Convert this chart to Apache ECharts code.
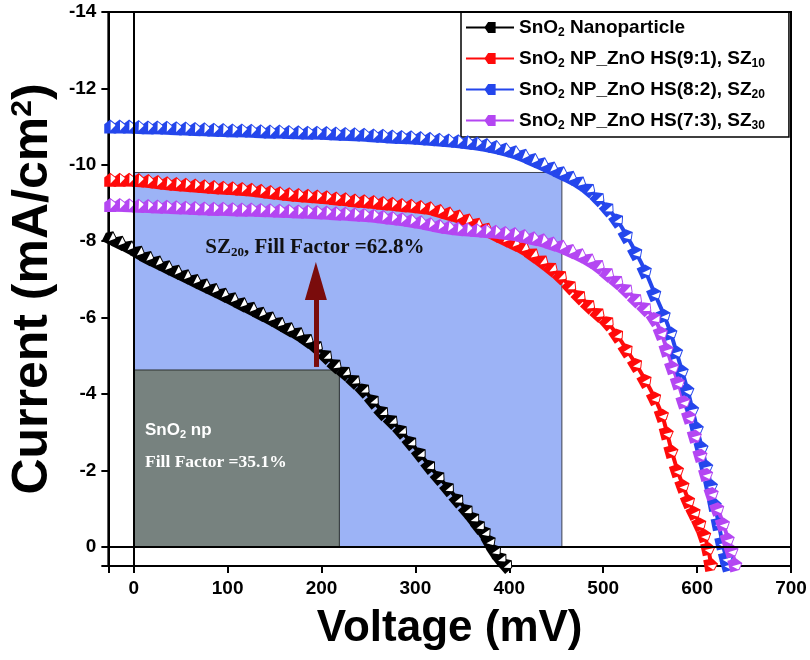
<!DOCTYPE html>
<html><head><meta charset="utf-8">
<script src="https://cdn.jsdelivr.net/npm/echarts@6/dist/echarts.min.js"></script>
<style>html,body{margin:0;padding:0;background:#fff}#c{width:810px;height:660px}</style>
</head><body><div id="c"></div>
<script>
// ---------- data ----------
const seriesNames = ['SnO2 Nanoparticle', 'SnO2 NP_ZnO HS(9:1), SZ10', 'SnO2 NP_ZnO HS(8:2), SZ20', 'SnO2 NP_ZnO HS(7:3), SZ30'];
const legendLabels = ['SnO{s|2} Nanoparticle', 'SnO{s|2} NP_ZnO HS(9:1), SZ{s|10}', 'SnO{s|2} NP_ZnO HS(8:2), SZ{s|20}', 'SnO{s|2} NP_ZnO HS(7:3), SZ{s|30}'];
const seriesColors = ['#000000', '#FF0A0A', '#2446EC', '#B446F2'];

const voltNP = [-25,-15,-5,5,15,25,35,45,55,65,75,85,95,105,115,125,135,145,155,165,175,185,195,205,215,225,235,245,255,265,275,285,295,305,315,325,335,345,355,362,368,374,379,385,391,397];
const currNP = [-8.10,-7.98,-7.86,-7.72,-7.58,-7.46,-7.34,-7.22,-7.10,-6.98,-6.86,-6.74,-6.62,-6.50,-6.37,-6.25,-6.12,-6.00,-5.86,-5.72,-5.59,-5.42,-5.24,-5.00,-4.76,-4.57,-4.35,-4.12,-3.83,-3.53,-3.30,-3.04,-2.74,-2.44,-2.12,-1.83,-1.54,-1.24,-0.96,-0.75,-0.55,-0.38,-0.15,0.10,0.30,0.47];

const voltSZ10 = [-25,-15,-5,5,15,25,35,45,55,65,75,85,95,105,115,125,135,145,155,165,175,185,195,205,215,225,235,245,255,265,275,285,295,305,315,325,335,345,355,365,375,385,395,405,415,425,435,445,455,465,475,485,495,505,515,525,535,545,555,563,568,573,579,585,591,597,603,608,612,615];
const currSZ10 = [-9.61,-9.61,-9.61,-9.60,-9.58,-9.55,-9.52,-9.50,-9.48,-9.46,-9.44,-9.42,-9.40,-9.39,-9.37,-9.35,-9.32,-9.29,-9.26,-9.23,-9.21,-9.19,-9.17,-9.15,-9.12,-9.10,-9.07,-9.05,-9.03,-9.00,-8.98,-8.95,-8.93,-8.90,-8.87,-8.80,-8.73,-8.66,-8.56,-8.45,-8.32,-8.19,-8.07,-7.95,-7.83,-7.66,-7.48,-7.29,-7.08,-6.82,-6.56,-6.32,-6.10,-5.88,-5.55,-5.16,-4.78,-4.36,-3.90,-3.45,-2.98,-2.50,-2.00,-1.60,-1.20,-0.90,-0.60,-0.30,0.05,0.47];

const voltSZ20 = [-25,-15,-5,5,15,25,35,45,55,65,75,85,95,105,115,125,135,145,155,165,175,185,195,205,215,225,235,245,255,265,275,285,295,305,315,325,335,345,355,365,375,385,395,405,415,425,435,445,455,465,475,485,495,505,515,525,535,545,555,565,572,578,584,590,595,600,605,610,615,619,623,627,631,633];
const currSZ20 = [-11.00,-11.00,-11.00,-10.99,-10.98,-10.98,-10.97,-10.96,-10.95,-10.94,-10.93,-10.92,-10.91,-10.90,-10.90,-10.89,-10.88,-10.87,-10.87,-10.86,-10.85,-10.84,-10.84,-10.83,-10.82,-10.81,-10.80,-10.79,-10.77,-10.76,-10.74,-10.73,-10.72,-10.70,-10.68,-10.66,-10.64,-10.62,-10.59,-10.56,-10.52,-10.47,-10.41,-10.34,-10.25,-10.14,-10.03,-9.92,-9.80,-9.68,-9.54,-9.36,-9.13,-8.86,-8.56,-8.15,-7.70,-7.22,-6.62,-6.06,-5.60,-5.10,-4.60,-4.10,-3.60,-3.10,-2.60,-2.10,-1.60,-1.10,-0.60,-0.10,0.30,0.47];

const voltSZ30 = [-25,-15,-5,5,15,25,35,45,55,65,75,85,95,105,115,125,135,145,155,165,175,185,195,205,215,225,235,245,255,265,275,285,295,305,315,325,335,345,355,365,375,385,395,405,415,425,435,445,455,465,475,485,495,505,515,525,535,545,555,562,568,574,580,586,592,598,604,610,616,622,628,633,637,641];
const currSZ30 = [-8.95,-8.95,-8.94,-8.93,-8.92,-8.91,-8.90,-8.89,-8.88,-8.87,-8.86,-8.85,-8.85,-8.84,-8.83,-8.83,-8.82,-8.81,-8.80,-8.79,-8.78,-8.77,-8.76,-8.75,-8.73,-8.72,-8.70,-8.69,-8.67,-8.64,-8.61,-8.58,-8.54,-8.50,-8.45,-8.40,-8.36,-8.33,-8.31,-8.29,-8.27,-8.25,-8.22,-8.19,-8.14,-8.08,-8.03,-7.95,-7.87,-7.76,-7.65,-7.52,-7.36,-7.15,-6.95,-6.73,-6.48,-6.25,-5.98,-5.60,-5.16,-4.70,-4.30,-3.80,-3.40,-2.90,-2.40,-1.90,-1.40,-1.00,-0.60,-0.20,0.10,0.47];

// fill-factor rectangles [corner1, corner2] in (mV, mA/cm2)
const rectSZ20 = [[0, -9.8], [456, 0]];
const rectNP = [[0, -4.63], [219, 0]];
// arrow from NP max-power point up to SZ20 level
const arrowStart = [194, -4.71];
const arrowEnd = [194, -6.96];
// annotation anchors
const labelSZ20 = [193, -7.83];
const labelNP1 = [12, -3.05];
const labelNP2 = [12, -2.20];

// ---------- chart ----------
const SANS = 'Liberation Sans';
const SERIF = 'Liberation Serif';
const HOUSE = 'path://M5,0L10,4L10,12L0,12L0,4Z';
const HALF = 'path://M0,0M10,12M5.3,1.3L9.1,4.3L9.1,5.2L5.3,9.3Z';

const curves = [
  {v: voltNP, j: currNP},
  {v: voltSZ10, j: currSZ10},
  {v: voltSZ20, j: currSZ20},
  {v: voltSZ30, j: currSZ30}
];

function buildSeries(rot) {
  const out = [];
  curves.forEach((c, k) => {
    const data = c.v.map((v, i) => ({value: [v, c.j[i]], symbolRotate: rot ? rot[k][i] : 0}));
    out.push({
      id: 'main' + k, name: seriesNames[k], type: 'line', data: data,
      symbol: HOUSE, symbolSize: [12, 14], showSymbol: true, showAllSymbol: true,
      itemStyle: {color: seriesColors[k]}, lineStyle: {color: seriesColors[k], width: 4},
      emphasis: {disabled: true}, z: 4, animation: false
    });
    out.push({
      id: 'half' + k, name: seriesNames[k] + ' (half)', type: 'line', data: data,
      symbol: HALF, symbolSize: [12, 14], showSymbol: true, showAllSymbol: true,
      itemStyle: {color: '#ffffff'}, lineStyle: {width: 0, opacity: 0},
      emphasis: {disabled: true}, silent: true, z: 4, animation: false
    });
  });
  return out;
}

const annotSeries = [
  {
    id: 'rects', type: 'line', data: [], z: 1, silent: true, animation: false,
    markArea: {
      silent: true,
      data: [
        [{coord: rectSZ20[0], itemStyle: {color: '#9CB3F6', borderColor: '#3d4250', borderWidth: 1}}, {coord: rectSZ20[1]}],
        [{coord: rectNP[0], itemStyle: {color: '#77827F', borderColor: '#2c302f', borderWidth: 1}}, {coord: rectNP[1]}]
      ]
    }
  },
  {
    id: 'zeros', type: 'line', data: [], z: 2, silent: true, animation: false,
    markLine: {
      silent: true, symbol: 'none', label: {show: false},
      lineStyle: {color: '#000', width: 2, type: 'solid'},
      data: [{xAxis: 0}, {yAxis: 0}]
    }
  },
  {
    id: 'arrow', type: 'line', data: [], z: 3, silent: true, animation: false,
    markLine: {
      silent: true, label: {show: false}, symbolSize: [22, 38],
      lineStyle: {color: '#7A0C0C', width: 5, type: 'solid'},
      data: [[{coord: arrowStart, symbol: 'none'}, {coord: arrowEnd, symbol: 'triangle'}]]
    }
  },
  {
    id: 'texts', type: 'line', data: [], z: 6, silent: true, animation: false,
    markPoint: {
      silent: true, symbol: 'circle', symbolSize: 0,
      data: [
        {coord: labelSZ20, label: {show: true, position: 'inside', formatter: 'SZ{s|20}, Fill Factor =62.8%',
          fontFamily: SERIF, fontWeight: 'bold', fontSize: 21, color: '#111',
          rich: {s: {fontFamily: SERIF, fontWeight: 'bold', fontSize: 13, color: '#111', padding: [10, 0, 0, 0]}}}},
        {coord: labelNP1, label: {show: true, position: 'right', distance: 0, formatter: 'SnO{s|2} np',
          fontFamily: SANS, fontWeight: 'bold', fontSize: 17, color: '#fff',
          rich: {s: {fontFamily: SANS, fontWeight: 'bold', fontSize: 11, color: '#fff', padding: [10, 0, 0, 0]}}}},
        {coord: labelNP2, label: {show: true, position: 'right', distance: 0, formatter: 'Fill Factor =35.1%',
          fontFamily: SERIF, fontWeight: 'bold', fontSize: 17.5, color: '#fff'}}
      ]
    }
  }
];

const option = {
  animation: false,
  backgroundColor: '#fff',
  grid: {left: 108, right: 19, top: 12, bottom: 94, show: true, borderColor: '#000', borderWidth: 2, backgroundColor: 'transparent'},
  legend: {
    orient: 'vertical', left: 461, top: 12,
    padding: [4, 24, 5, 4],
    borderColor: '#000', borderWidth: 1.5,
    itemWidth: 48, itemHeight: 14, itemGap: 8, symbolRotate: 90,
    data: seriesNames,
    formatter: function (name) { return legendLabels[seriesNames.indexOf(name)]; },
    textStyle: {fontFamily: SANS, fontWeight: 'bold', fontSize: 19, color: '#000', lineHeight: 23,
      rich: {s: {fontFamily: SANS, fontWeight: 'bold', fontSize: 12, color: '#000', padding: [11, 0, 0, 0]}}}
  },
  xAxis: {
    type: 'value', min: -27, max: 700, splitNumber: 7,
    name: 'Voltage (mV)', nameLocation: 'middle', nameGap: 41,
    nameTextStyle: {fontFamily: SANS, fontWeight: 'bold', fontSize: 44, color: '#000'},
    axisLine: {onZero: false, lineStyle: {color: '#000', width: 2}},
    axisTick: {show: true, length: 7, lineStyle: {color: '#000', width: 2}},
    axisLabel: {margin: 13, fontFamily: SANS, fontWeight: 'bold', fontSize: 19, color: '#000',
      formatter: function (v) { return (v % 100 === 0) ? String(v) : ''; }},
    splitLine: {show: false}
  },
  yAxis: {
    type: 'value', min: -14, max: 0.5, interval: 2, inverse: true,
    name: 'Current (mA/cm{p|2})', nameLocation: 'middle', nameRotate: 90, nameGap: 50,
    nameTextStyle: {fontFamily: SANS, fontWeight: 'bold', fontSize: 50, color: '#000',
      rich: {p: {fontFamily: SANS, fontWeight: 'bold', fontSize: 30, color: '#000', padding: [0, 0, 20, 0]}}},
    axisLine: {onZero: false, lineStyle: {color: '#000', width: 2}},
    axisTick: {show: true, length: 7, lineStyle: {color: '#000', width: 2}},
    axisLabel: {margin: 12, fontFamily: SANS, fontWeight: 'bold', fontSize: 19, color: '#000',
      formatter: function (v) { return Number.isInteger(v) ? String(v) : ''; }},
    splitLine: {show: false}
  },
  series: annotSeries.concat(buildSeries(null))
};

const chart = echarts.init(document.getElementById('c'));
chart.setOption(option);

// orient markers along the curve tangent (screen space)
const rot = curves.map(c => {
  const px = c.v.map((v, i) => chart.convertToPixel({gridIndex: 0}, [v, c.j[i]]));
  return px.map((p, i) => {
    const a = px[Math.max(0, i - 1)], b = px[Math.min(px.length - 1, i + 1)];
    return -Math.atan2(b[1] - a[1], b[0] - a[0]) * 180 / Math.PI;
  });
});
chart.setOption({series: buildSeries(rot)});
</script>
</body></html>
